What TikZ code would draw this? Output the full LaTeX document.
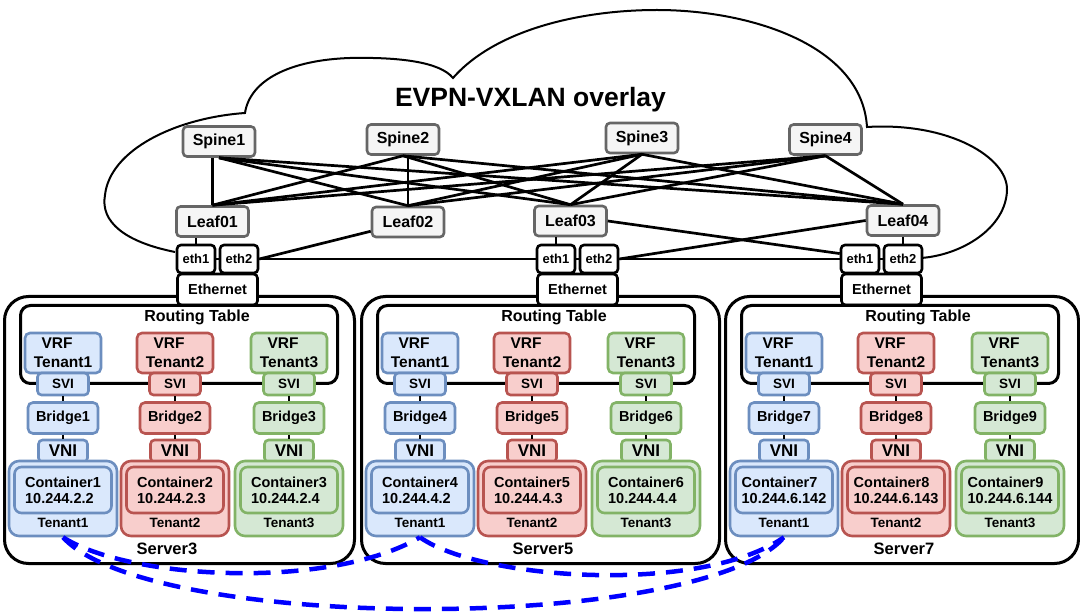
\documentclass[tikz,border=0pt]{standalone}
\usepackage{fontspec}
\setmainfont{Liberation Sans}
\usetikzlibrary{positioning, calc}
\definecolor{blueFill}{HTML}{DAE8FC}
\definecolor{blueLine}{HTML}{6C8EBF}
\definecolor{redFill}{HTML}{F8CECC}
\definecolor{redLine}{HTML}{B85450}
\definecolor{greenFill}{HTML}{D5E8D4}
\definecolor{greenLine}{HTML}{82B366}
\definecolor{grayFill}{HTML}{F5F5F5}
\definecolor{grayLine}{HTML}{666666}
\definecolor{tunnelBlue}{HTML}{0000FF}
\tikzstyle{cloud} = [draw=black, line width=2pt]
\tikzstyle{switch} = [rectangle, rounded corners=4pt, draw=grayLine, fill=grayFill, line width=2.6pt, minimum width=72pt, minimum height=30pt, inner sep=0pt, font=\fontsize{16}{18}\selectfont\bfseries]
\tikzstyle{port} = [rectangle, rounded corners=4pt, draw=black, fill=white, line width=2.6pt, minimum width=38pt, minimum height=28pt, inner sep=0pt, font=\fontsize{13}{15}\selectfont\bfseries]
\tikzstyle{nic} = [port, minimum width=80pt, minimum height=31pt, font=\fontsize{14.5}{16}\selectfont\bfseries]
\tikzstyle{server} = [rectangle, rounded corners=24pt, draw=black, line width=3pt, minimum height=267pt, inner sep=0pt]
\tikzstyle{rtable} = [rectangle, rounded corners=10pt, draw=black, line width=3pt, minimum width=317pt, minimum height=78pt, inner sep=0pt]
\tikzstyle{cbox} = [rectangle, rounded corners=5pt, line width=2.6pt, inner sep=0pt]
\tikzstyle{vrf} = [cbox, minimum width=76pt, minimum height=40pt, align=center, font=\fontsize{15.5}{19}\selectfont\bfseries]
\tikzstyle{svi} = [cbox, rounded corners=4pt, minimum width=51pt, minimum height=22pt, font=\fontsize{13.5}{15}\selectfont\bfseries]
\tikzstyle{bridge} = [cbox, minimum width=70pt, minimum height=31pt, font=\fontsize{14.5}{16}\selectfont\bfseries]
\tikzstyle{vni} = [cbox, rounded corners=4pt, minimum width=49pt, minimum height=22pt, font=\fontsize{17}{18}\selectfont\bfseries]
\tikzstyle{tenant} = [cbox, rounded corners=10pt, minimum width=108pt, minimum height=75pt]
\tikzstyle{container} = [cbox, rounded corners=7pt, minimum width=97pt, minimum height=46pt, align=left, font=\fontsize{14.5}{16}\selectfont\bfseries]
\tikzstyle{tagsmall} = [inner sep=0pt, font=\fontsize{13.5}{15}\selectfont\bfseries]
\tikzstyle{tagbig} = [inner sep=0pt, font=\fontsize{16}{18}\selectfont\bfseries]
\tikzstyle{link} = [line width=2.7pt]
\tikzstyle{wire} = [line width=2pt]
\tikzstyle{tunnel} = [line width=4.5pt, draw=tunnelBlue, dash pattern=on 17pt off 11pt]

\begin{document}
\begin{tikzpicture}[x=1pt, y=-1pt]
		\useasboundingbox (0,0) rectangle (1080,612);
		%云
		\draw [cloud] (175,252) .. controls (125,242) and (100,222) .. (105,195)
			.. controls (110,150) and (175,118) .. (245,113)
			.. controls (250,80) and (290,60) .. (350,58)
			.. controls (400,57) and (440,62) .. (453,78)
			.. controls (495,30) and (580,10) .. (657,10)
			.. controls (750,10) and (862,45) .. (867,127)
			.. controls (950,122) and (1008,158) .. (1007,190)
			.. controls (1006,228) and (962,255) .. (921,258);
		\node (title) [font=\fontsize{26.5}{30}\selectfont\bfseries] at (530.5,100) {EVPN-VXLAN overlay};
		
		%交换机
		\node (spine1) [switch] at (219,141.5) {Spine1};
		\node (spine2) [switch] at (403,139.5) {Spine2};
		\node (spine3) [switch] at (642,138) {Spine3};
		\node (spine4) [switch] at (825.5,139.5) {Spine4};
		\node (leaf01) [switch] at (212.5,221.5) {Leaf01};
		\node (leaf02) [switch] at (408,222) {Leaf02};
		\node (leaf03) [switch] at (570.5,221) {Leaf03};
		\node (leaf04) [switch] at (903,220.5) {Leaf04};
		
		%服务器
		\foreach \sv/\sx/\sw/\ex/\bo/\nt/\ho/\lx in {3/3/350/217.5/0/2/2/164, 5/360/358/577.5/3/4/2/183, 7/724/353/881.5/6/6/142/180} {
			\node (srv\sv) [server, minimum width=\sw pt, anchor=north west] at (\sx,295) {};
			\node (nic\sv) [nic] at (\ex,289.5) {Ethernet};
			\node (eth\sv1) [port] at (\ex-21.5,259) {eth1};
			\node (eth\sv2) [port] at (\ex+21.5,259) {eth2};
			\node (rt\sv) [rtable, anchor=north west] at (\sx+16,304) {};
			\node (rtl\sv) [tagbig] at (\sx+194,317) {Routing Table};
			\node (name\sv) [tagbig, font=\fontsize{16.5}{18}\selectfont\bfseries] at (\sx+\lx,549) {Server\sv};
			\draw [wire] (eth\sv1.east) -- (eth\sv2.west);
			\foreach \tn/\dx/\ln/\fl in {1/60/blueLine/blueFill, 2/172/redLine/redFill, 3/286/greenLine/greenFill} {
				\pgfmathtruncatemacro{\bn}{\bo+\tn}
				\pgfmathtruncatemacro{\hn}{\ho+\tn-1}
				\node (vrf\sv\tn) [vrf, draw=\ln, fill=\fl] at (\sx+\dx,353) {\makebox[43pt][l]{VRF}\\Tenant\tn};
				\node (svi\sv\tn) [svi, draw=\ln, fill=\fl] at (\sx+\dx,384) {SVI};
				\node (br\sv\tn) [bridge, draw=\ln, fill=\fl] at (\sx+\dx,418) {Bridge\bn};
				\node (vni\sv\tn) [vni, draw=\ln, fill=\fl] at (\sx+\dx,451) {VNI};
				\node (ten\sv\tn) [tenant, draw=\ln, fill=\fl] at (\sx+\dx,498.5) {};
				\node (con\sv\tn) [container, draw=\ln, fill=\fl] at (\sx+\dx,490) {Container\bn\\10.244.\nt.\hn};
				\node (tl\sv\tn) [tagsmall] at (\sx+\dx,523) {Tenant\tn};
				\draw [wire] (svi\sv\tn) -- (br\sv\tn);
				\draw [wire] (br\sv\tn) -- (vni\sv\tn);
			}
		}
		
		%连接交换机
		\draw [link] (spine1.south -| leaf01.north) -- (leaf01.north);
		\draw [link] (spine1.south) -- (leaf02.north);
		\draw [link] (spine1.south) -- (leaf03.north);
		\draw [link] (spine1.south) -- (leaf04.north);
		\draw [link] (spine2.south) -- (leaf01.north);
		\draw [link] (spine2.south -| leaf02.north) -- (leaf02.north);
		\draw [link] (spine2.south) -- (leaf03.north);
		\draw [link] (spine2.south) -- (leaf04.north);
		\draw [link] (spine3.south) -- (leaf01.north);
		\draw [link] (spine3.south) -- (leaf02.north);
		\draw [link] (spine3.south) -- (leaf03.north);
		\draw [link] (spine3.south) -- (leaf04.north);
		\draw [link] (spine4.south) -- (leaf01.north);
		\draw [link] (spine4.south) -- (leaf02.north);
		\draw [link] (spine4.south) -- (leaf03.north);
		\draw [link] (spine4.south) -- (leaf04.north);
		
		%连接网口
		\draw [wire] (leaf01.south -| eth31.north) -- (eth31.north);
		\draw [link] (leaf02) -- (eth32.east);
		\draw [link] (eth32.east) -- (eth51.west);
		\draw [wire] (leaf03.south -| eth51.north) -- (eth51.north);
		\draw [link] (leaf03.east) -- (eth71.165);
		\draw [link] (leaf04.west) -- (eth52.east);
		\draw [link] (eth52.east) -- (eth71.west);
		\draw [wire] (leaf04.south -| eth72.north) -- (eth72.north);
		
		%租户隧道
		\draw [tunnel] (ten31.south) .. controls (130,580) and (330,590) .. (ten51.south);
		\draw [tunnel] (ten31.south) .. controls (150,633) and (700,633) .. (ten71.south);
		\draw [tunnel] (ten51.south) .. controls (480,580) and (700,595) .. (ten71.south);
	\end{tikzpicture}
\end{document}
